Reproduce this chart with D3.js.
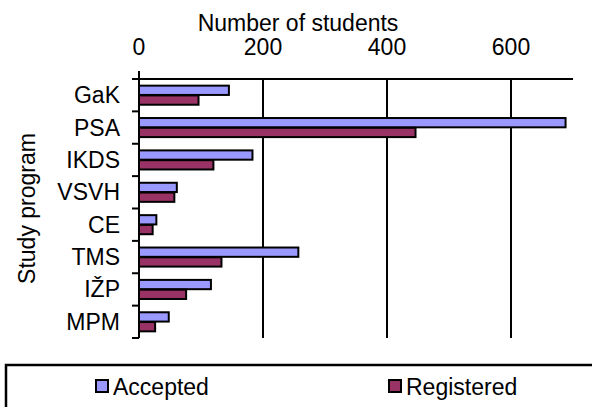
<!DOCTYPE html>
<html>
<head>
<meta charset="utf-8">
<script src="https://cdn.jsdelivr.net/npm/d3@7"></script>
<style>
  body { margin: 0; background: #fff; }
  text { font-family: "Liberation Sans", Arial, sans-serif; fill: #000; }
</style>
</head>
<body>
<div id="chart-area"></div>
<script>
// data
var programs = ["GaK", "PSA", "IKDS", "VSVH", "CE", "TMS", "IŽP", "MPM"];
var accepted = [145, 688, 183, 61, 28, 257, 116, 48];
var registered = [96, 446, 120, 57, 22, 133, 76, 26];
var seriesNames = ["Accepted", "Registered"];
var seriesColors = ["#9999FF", "#993366"];
var xTicks = [0, 200, 400, 600];

var margin = { left: 139, right: 19, top: 79, bottom: 69 };
var width = 592 - margin.left - margin.right,
    height = 407 - margin.top - margin.bottom;

var svg = d3.select("#chart-area")
  .append("svg")
    .attr("width", 592)
    .attr("height", 407);

var g = svg.append("g")
  .attr("transform", "translate(" + margin.left + "," + margin.top + ")");

var x = d3.scaleLinear()
  .domain([0, 700])
  .range([0, width]);

var y = d3.scaleBand()
  .domain(programs)
  .range([0, height]);

var inner = d3.scaleBand()
  .domain(seriesNames)
  .range([0, y.bandwidth()])
  .paddingInner(0.05)
  .paddingOuter(0.68);

// gridlines
g.selectAll(".grid")
  .data(xTicks.slice(1))
  .enter().append("line")
    .attr("x1", function(d) { return x(d); })
    .attr("x2", function(d) { return x(d); })
    .attr("y1", 0)
    .attr("y2", height)
    .attr("stroke", "#000")
    .attr("stroke-width", 2);

// bars
var rows = programs.map(function(p, i) {
  return { name: p, values: [accepted[i], registered[i]] };
});

var rowG = g.selectAll(".row")
  .data(rows)
  .enter().append("g")
    .attr("transform", function(d) { return "translate(0," + y(d.name) + ")"; });

rowG.selectAll("rect")
  .data(function(d) { return d.values; })
  .enter().append("rect")
    .attr("x", x(0))
    .attr("y", function(d, i) { return inner(seriesNames[i]); })
    .attr("width", function(d) { return x(d) - x(0); })
    .attr("height", inner.bandwidth())
    .attr("fill", function(d, i) { return seriesColors[i]; })
    .attr("stroke", "#000")
    .attr("stroke-width", 2);

// top axis line
g.append("line")
  .attr("x1", -7).attr("x2", x(700))
  .attr("y1", 0).attr("y2", 0)
  .attr("stroke", "#000").attr("stroke-width", 2);

// left axis line (extends above like a tick)
g.append("line")
  .attr("x1", x(0)).attr("x2", x(0))
  .attr("y1", -8).attr("y2", height)
  .attr("stroke", "#000").attr("stroke-width", 2);

// category ticks at band boundaries
var bounds = programs.map(function(p) { return y(p); }).slice(1).concat([height]);
g.selectAll(".ctick")
  .data(bounds)
  .enter().append("line")
    .attr("x1", -7).attr("x2", 0)
    .attr("y1", function(d) { return d; })
    .attr("y2", function(d) { return d; })
    .attr("stroke", "#000").attr("stroke-width", 2);

// x tick labels
g.selectAll(".xlab")
  .data(xTicks)
  .enter().append("text")
    .attr("x", function(d) { return x(d); })
    .attr("y", -24)
    .attr("text-anchor", "middle")
    .attr("font-size", "23px")
    .text(function(d) { return d; });

// category labels
g.selectAll(".ylab")
  .data(programs)
  .enter().append("text")
    .attr("x", -19)
    .attr("y", function(d) { return y(d) + y.bandwidth() / 2 + 8; })
    .attr("text-anchor", "end")
    .attr("font-size", "23px")
    .text(function(d) { return d; });

// X title
svg.append("text")
  .attr("x", 298)
  .attr("y", 31)
  .attr("text-anchor", "middle")
  .attr("font-size", "23px")
  .text("Number of students");

// Y title
svg.append("text")
  .attr("transform", "translate(35," + (margin.top + height / 2) + ") rotate(-90)")
  .attr("text-anchor", "middle")
  .attr("font-size", "23px")
  .text("Study program");

// legend
svg.append("rect")
  .attr("x", 6).attr("y", 365)
  .attr("width", 600).attr("height", 60)
  .attr("fill", "#fff")
  .attr("stroke", "#000").attr("stroke-width", 2.5);

var legendX = [96, 389];
seriesNames.forEach(function(s, i) {
  var lg = svg.append("g")
    .attr("transform", "translate(" + legendX[i] + ",380)");
  lg.append("rect")
    .attr("width", 12).attr("height", 12)
    .attr("fill", seriesColors[i])
    .attr("stroke", "#000").attr("stroke-width", 2);
  lg.append("text")
    .attr("x", 17)
    .attr("y", 15)
    .attr("font-size", "23px")
    .text(s);
});
</script>
</body>
</html>
